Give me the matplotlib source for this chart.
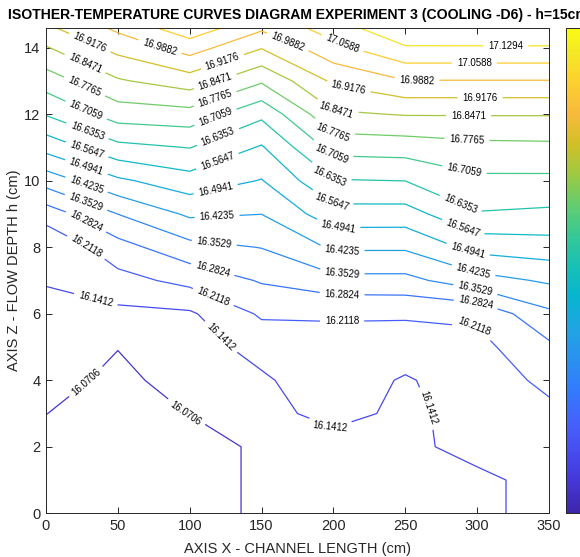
import numpy as np
import matplotlib
matplotlib.use("Agg")
import matplotlib.pyplot as plt
from matplotlib.colors import LinearSegmentedColormap, Normalize
from matplotlib.cm import ScalarMappable

plt.rcParams['font.family'] = ['Liberation Sans', 'DejaVu Sans']

# ---- data -------------------------------------------------------------
x_cm = [0, 50, 100, 150, 200, 250, 300, 350]
z_cm = [0, 1, 2, 3, 4, 5, 6, 7, 8, 9, 10, 11, 12, 13, 14, 14.6]

# temperature (deg C) at each depth row (z) for each x column
temp_rows = [
    [16.0212, 16.0071, 16.0353, 16.0847, 16.0918, 16.1059, 16.1151, 16.1800],
    [16.0353, 16.0247, 16.0353, 16.0847, 16.0918, 16.1094, 16.1151, 16.1800],
    [16.0529, 16.0318, 16.0353, 16.0847, 16.0939, 16.1129, 16.1807, 16.1906],
    [16.0713, 16.0424, 16.0720, 16.1059, 16.1765, 16.1179, 16.1835, 16.2012],
    [16.0889, 16.0586, 16.0904, 16.1306, 16.1871, 16.1327, 16.1871, 16.2224],
    [16.1073, 16.0720, 16.1094, 16.1659, 16.2047, 16.1835, 16.1906, 16.2682],
    [16.1249, 16.1242, 16.1313, 16.2216, 16.2139, 16.2188, 16.2259, 16.3388],
    [16.1447, 16.1878, 16.2322, 16.2887, 16.3325, 16.3325, 16.3953, 16.4334],
    [16.1482, 16.2555, 16.3304, 16.3551, 16.4334, 16.4334, 16.5188, 16.5329],
    [16.2435, 16.3536, 16.4355, 16.4242, 16.5358, 16.5344, 16.6304, 16.6212],
    [16.3826, 16.4814, 16.5358, 16.4906, 16.6311, 16.6360, 16.6918, 16.6911],
    [16.5181, 16.6155, 16.6374, 16.5576, 16.7313, 16.7376, 16.7560, 16.7595],
    [16.6402, 16.7391, 16.7496, 16.6515, 16.8365, 16.8513, 16.8513, 16.8513],
    [16.7398, 16.8393, 16.8838, 16.7856, 16.9304, 16.9854, 16.9854, 16.9854],
    [16.8421, 16.9402, 17.0207, 16.9219, 17.0384, 17.1224, 17.1224, 17.1224],
    [16.9035, 17.0045, 17.1054, 17.0016, 17.0941, 17.1929, 17.1965, 17.2000],
]

t_min, t_max, n_levels = 16.0, 17.2, 16
x_ticks = [0, 50, 100, 150, 200, 250, 300, 350]
z_ticks = [0, 2, 4, 6, 8, 10, 12, 14]

title = "ISOTHER-TEMPERATURE CURVES DIAGRAM EXPERIMENT 3 (COOLING -D6) - h=15cm"
x_label = "AXIS X - CHANNEL LENGTH (cm)"
y_label = "AXIS Z - FLOW DEPTH h (cm)"

# ---- style ------------------------------------------------------------
parula_idx = [1, 5, 9, 13, 17, 21, 25, 29, 33, 37, 41, 45, 49, 53, 57, 61, 64]
parula_rgb = [
    (0.2422, 0.1504, 0.6603), (0.2706, 0.2147, 0.8364), (0.2813, 0.3006, 0.9414),
    (0.2699, 0.3892, 0.9906), (0.1963, 0.4847, 0.9892), (0.1687, 0.5703, 0.9359),
    (0.1248, 0.6459, 0.8883), (0.0297, 0.7082, 0.8163), (0.0964, 0.7500, 0.7120),
    (0.2161, 0.7843, 0.5923), (0.3909, 0.8029, 0.4354), (0.6174, 0.7876, 0.2612),
    (0.8203, 0.7498, 0.1535), (0.9728, 0.7298, 0.2394), (0.9892, 0.8136, 0.1885),
    (0.9597, 0.9135, 0.1423), (0.9769, 0.9839, 0.0805),
]
parula = LinearSegmentedColormap.from_list(
    "parula", [((i - 1) / 63, c) for i, c in zip(parula_idx, parula_rgb)])

label_pos = [
    (30, 14.1), (27, 13.5), (27, 12.85), (28, 12.13), (28, 11.4), (28, 10.87),
    (28, 10.4), (28, 9.85), (27, 9.25), (27, 8.7), (28, 8.0), (35, 6.5), (28, 3.95),
    (80, 14.12), (123, 13.55), (118, 12.95), (118, 12.43), (118, 11.9), (120, 11.27),
    (120, 10.5), (118, 9.75), (119, 8.95), (117, 8.08), (116, 7.33), (116, 6.46),
    (124, 5.4), (97, 3.0),
    (168, 14.15), (206, 14.1), (210, 12.7), (202, 12.1), (200, 11.47), (199, 10.82),
    (198, 10.15), (199.5, 9.4), (203, 8.65), (206, 7.93), (206, 7.2), (206, 6.5),
    (206, 5.77), (199, 2.74),
    (320, 14.05), (298, 13.54), (258, 13.0), (302, 12.5), (294, 11.95), (293, 11.3),
    (291, 10.27), (289, 9.35), (290, 8.56), (294, 7.96), (298, 7.36), (299, 6.8),
    (299, 6.22), (298, 5.7), (268, 3.2),
]

W, H = 580, 557
fig = plt.figure(figsize=(W / 100, H / 100), dpi=100)
ax_l, ax_r, ax_t, ax_b = 46, 549, 27.7, 513.3
ax = fig.add_axes([ax_l / W, 1 - ax_b / H, (ax_r - ax_l) / W, (ax_b - ax_t) / H])

X, Z = np.meshgrid(x_cm, z_cm)
T = np.array(temp_rows)
levels = np.linspace(t_min, t_max, n_levels + 2)[1:-1]
cs = ax.contour(X, Z, T, levels=levels, cmap=parula, vmin=t_min, vmax=t_max,
                linewidths=0.9)
ax.clabel(cs, fmt='%.4f', fontsize=7, colors='k', inline=True,
          inline_spacing=5, manual=label_pos)

ax.set_xlim(0, 350)
ax.set_ylim(0, 14.6)
ax.set_xticks(x_ticks)
ax.set_yticks(z_ticks)
ax.tick_params(direction='in', top=True, right=True, length=4, width=0.7,
               colors='#262626', labelsize=10.5, pad=4)
for s in ax.spines.values():
    s.set_color('#262626')
    s.set_linewidth(0.7)

fig.text((ax_l + ax_r) / 2 / W, 1 - 15 / H, title, ha='center', va='center',
         fontsize=10.1, fontweight='bold', color='black')
fig.text((ax_l + ax_r) / 2 / W, 1 - 549 / H, x_label, ha='center', va='center',
         fontsize=10.5, color='#262626')
fig.text(14 / W, 1 - (ax_t + ax_b) / 2 / H, y_label, ha='center', va='center',
         rotation=90, fontsize=10.5, color='#262626')

cax = fig.add_axes([566 / W, 1 - ax_b / H, 28 / W, (ax_b - ax_t) / H])
sm = ScalarMappable(norm=Normalize(t_min, t_max), cmap=parula)
cb = fig.colorbar(sm, cax=cax)
cb.set_ticks([])
cb.outline.set_linewidth(0.7)
cb.outline.set_edgecolor('#262626')

fig.savefig("out.png", dpi=100)
